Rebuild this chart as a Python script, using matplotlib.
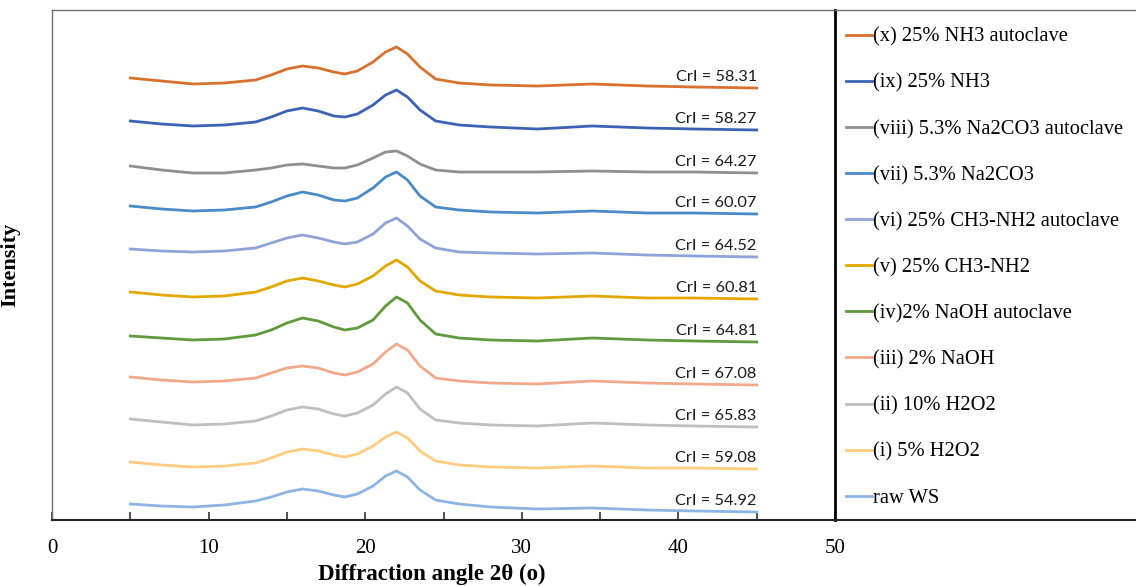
import matplotlib
matplotlib.use("Agg")
import matplotlib.pyplot as plt

two_theta = [5, 7, 9, 11, 13, 14, 15, 16, 17, 18, 18.7, 19.5, 20.5, 21.3, 22,
             22.7, 23.5, 24.5, 26, 28, 31, 34.5, 38, 41, 45]

# intensities (a.u., already stacked with offsets)
raw_ws = [16, 14, 13, 15, 19, 23, 28, 31, 29, 25, 23, 26, 34, 44, 49,
          43, 30, 20, 16, 13, 11, 12, 10, 9, 8]
h2o2_5 = [58, 55, 53, 54, 57, 62, 68, 71, 69, 65, 63, 66, 74, 83, 88,
          82, 69, 59, 55, 53, 52, 54, 52, 52, 51]
h2o2_10 = [101, 98, 95, 96, 99, 104, 110, 113, 111, 106, 104, 107, 115, 126, 133,
           127, 111, 100, 97, 95, 94, 97, 95, 94, 93]
naoh = [143, 140, 138, 139, 142, 147, 152, 154, 152, 147, 145, 148, 156, 168, 176,
        170, 154, 142, 139, 137, 136, 139, 137, 136, 135]
naoh_auto = [184, 182, 180, 181, 185, 190, 197, 202, 199, 193, 190, 192, 200, 214, 223,
             217, 200, 186, 182, 180, 179, 182, 180, 179, 178]
ch3nh2 = [228, 225, 223, 224, 228, 233, 239, 242, 239, 235, 233, 236, 244, 254, 260,
          253, 239, 229, 225, 223, 222, 224, 222, 222, 221]
ch3nh2_auto = [271, 269, 268, 269, 272, 277, 282, 285, 282, 278, 276, 278, 286, 297, 302,
               294, 281, 272, 268, 267, 266, 267, 265, 264, 263]
na2co3 = [314, 311, 309, 310, 313, 318, 324, 328, 325, 320, 319, 322, 332, 343, 348,
          340, 324, 313, 310, 308, 307, 309, 307, 307, 306]
na2co3_auto = [354, 350, 347, 347, 350, 352, 355, 356, 354, 352, 352, 355, 362, 368, 369,
               364, 356, 350, 348, 348, 348, 349, 348, 348, 347]
nh3 = [399, 396, 394, 395, 398, 403, 409, 412, 409, 404, 403, 406, 415, 425, 430,
       423, 410, 399, 395, 393, 391, 394, 392, 391, 390]
nh3_auto = [442, 439, 436, 437, 440, 445, 451, 454, 452, 448, 446, 449, 458, 468, 473,
            466, 453, 441, 437, 435, 434, 436, 434, 433, 432]

series = [raw_ws, h2o2_5, h2o2_10, naoh, naoh_auto, ch3nh2, ch3nh2_auto,
          na2co3, na2co3_auto, nh3, nh3_auto]
labels = ["raw WS", "(i) 5% H2O2", "(ii) 10% H2O2", "(iii) 2% NaOH",
          "(iv)2% NaOH autoclave", "(v) 25% CH3-NH2", "(vi) 25% CH3-NH2 autoclave",
          "(vii) 5.3% Na2CO3", "(viii) 5.3% Na2CO3 autoclave", "(ix) 25% NH3",
          "(x) 25% NH3 autoclave"]
cri = ["54.92", "59.08", "65.83", "67.08", "64.81", "60.81", "64.52",
       "60.07", "64.27", "58.27", "58.31"]
colors = ["#8eb4e3", "#ffcc80", "#bfbfbf", "#f2a88a", "#5f9a3c", "#e2a800",
          "#8fa3d8", "#4a8ac6", "#8f8f8f", "#3b62b5", "#d9712e"]

W, H = 1136, 586
fig = plt.figure(figsize=(W / 100, H / 100), dpi=100)
ax = fig.add_axes([52 / W, 1 - 520 / H, (835 - 52) / W, 510 / H])
lax = fig.add_axes([835 / W, 1 - 520 / H, (W - 835) / W, 510 / H])
lax.patch.set_visible(False)

serif = "Liberation Serif"

lines = []
for ys, lab, col, c in zip(series, labels, colors, cri):
    ln, = ax.plot(two_theta, ys, color=col, lw=2.0, label=lab,
                  solid_joinstyle="round")
    lines.append(ln)
    ax.text(45, ys[-1] + 7, "CrI = " + c, ha="right", va="baseline",
            fontsize=11.8, family="Lato", color="#1a1a1a")

ax.set_xlim(0, 50)
ax.set_ylim(0, 510)
ax.set_xticks(range(0, 51, 5))
ax.set_xticklabels([str(v) if v % 10 == 0 else "" for v in range(0, 51, 5)],
                   family=serif, fontsize=15)
ax.tick_params(axis="x", direction="in", length=6, width=1.2, pad=14, color="#333333")
ax.set_yticks([])
for s in ["left", "top"]:
    ax.spines[s].set_color("#6e6e6e")
    ax.spines[s].set_linewidth(1.0)
ax.spines["bottom"].set_color("#222222")
ax.spines["bottom"].set_linewidth(1.5)
ax.spines["right"].set_color("black")
ax.spines["right"].set_linewidth(2.0)
ax.spines["right"].set_zorder(5)

ax.set_xlabel("Diffraction angle 2θ (o)", family=serif, fontsize=16.5, fontweight="bold")
ax.xaxis.set_label_coords(0.485, -0.085)
ax.set_ylabel("Intensity", family=serif, fontsize=16, fontweight="bold")
ax.yaxis.set_label_coords(-0.041, 0.5)

# legend panel
lax.set_xticks([])
lax.set_yticks([])
lax.spines["left"].set_visible(False)
lax.spines["right"].set_visible(False)
lax.spines["top"].set_color("#6e6e6e")
lax.spines["top"].set_linewidth(1.0)
lax.spines["bottom"].set_color("#222222")
lax.spines["bottom"].set_linewidth(1.5)
lax.legend(lines[::-1], labels[::-1], loc="upper left", bbox_to_anchor=(-0.023, 1.0),
           frameon=False, prop={"family": serif, "size": 14.8},
           handlelength=1.3, handletextpad=0.05, labelspacing=1.3,
           borderaxespad=0.1, borderpad=0.75)

fig.savefig("out.png", dpi=100)
